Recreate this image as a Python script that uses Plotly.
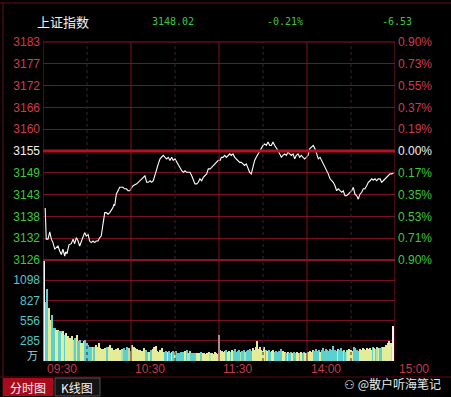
import numpy as np
import plotly.graph_objects as go

# ---------------- data ----------------
prev_close = 3154.55
last_price = 3148.02
change_pct = "-0.21%"
change_abs = "-6.53"
index_name = "上证指数"

price_ticks_left = ["3126", "3132", "3138", "3143", "3149", "3155",
                    "3160", "3166", "3172", "3177", "3183"]
price_ticks_right = ["0.90%", "0.71%", "0.53%", "0.35%", "0.17%", "0.00%",
                     "0.19%", "0.37%", "0.55%", "0.73%", "0.90%"]
time_ticks = [0, 60, 120, 180, 240]
time_labels = ["09:30", "10:30", "11:30", "14:00", "15:00"]
vol_ticks = [285, 556, 827, 1098]
vol_unit = "万"

price_min = [1.5, 2.2, 3.4, 4.6, 5.7, 6.8, 8.0, 9.0, 10.2, 11.4, 12.5, 13.6, 14.8, 15.5, 16.4,
             17.7, 19.3, 20.5, 21.6, 22.7, 23.9, 25.0, 26.1, 27.3, 28.4, 29.5, 30.7, 31.8, 32.9,
             34.1, 35.2, 36.3, 37.5, 38.7, 39.7, 40.9, 42.1, 43.2, 44.3, 45.5, 46.6, 47.7, 48.4,
             48.9, 50.0, 51.1, 52.3, 54.5, 55.7, 56.8, 58.0, 59.1, 60.2, 61.4, 63.9, 65.0, 66.1,
             67.3, 68.4, 69.5, 70.7, 71.8, 73.0, 74.1, 75.2, 76.4, 77.5, 78.6, 79.8, 80.9, 82.0,
             83.2, 84.3, 85.4, 86.6, 87.7, 88.8, 90.0, 91.2, 92.2, 93.4, 94.6, 95.7, 96.8, 98.0,
             99.1, 100.2, 101.4, 102.5, 103.6, 104.8, 105.9, 107.0, 108.2, 109.3, 110.5, 111.6,
             112.7, 113.9, 115.0, 116.1, 117.3, 118.4, 119.5, 120.7, 121.6, 122.7, 123.9, 125.0,
             126.1, 127.3, 128.4, 129.5, 130.7, 131.8, 133.0, 134.1, 135.2, 136.4, 137.5, 138.6,
             139.8, 140.9, 142.0, 143.2, 144.3, 145.4, 146.6, 147.7, 148.8, 150.0, 151.2, 152.3,
             153.4, 154.6, 155.7, 156.8, 158.0, 159.1, 160.2, 161.4, 162.5, 163.6, 164.8, 165.9,
             167.0, 168.2, 169.3, 170.5, 171.6, 172.7, 173.9, 175.0, 176.1, 177.3, 178.4, 179.5,
             180.7, 181.8, 183.2, 184.3, 185.5, 186.6, 187.7, 188.9, 190.0, 191.1, 192.3, 193.4,
             194.5, 195.7, 196.8, 197.9, 199.1, 200.2, 201.3, 202.5, 203.7, 204.7, 205.9, 207.1,
             208.2, 209.3, 210.5, 211.6, 212.7, 213.9, 215.0, 216.1, 217.3, 218.4, 219.5, 220.7,
             221.8, 223.0, 224.1, 225.2, 226.4, 227.5, 228.6, 229.8, 230.9, 232.0, 233.2, 234.3,
             235.5, 236.6, 237.8, 239.0]
price_val = [3139.7, 3131.6, 3131.6, 3133.5, 3131.6, 3130.7, 3129.0, 3129.4, 3129.8, 3128.5, 3127.6,
             3129.0, 3127.2, 3128.3, 3127.8, 3130.1, 3130.4, 3131.6, 3130.4, 3132.0, 3131.1, 3129.8,
             3131.1, 3132.4, 3133.3, 3132.4, 3132.9, 3131.1, 3130.7, 3131.1, 3130.7, 3131.1, 3131.1,
             3132.0, 3132.4, 3135.5, 3138.5, 3138.5, 3138.1, 3138.5, 3139.0, 3139.8, 3140.7, 3140.3,
             3143.3, 3144.2, 3145.1, 3145.1, 3144.7, 3144.7, 3144.2, 3144.2, 3144.7, 3145.5, 3146.0,
             3146.4, 3146.8, 3147.3, 3147.7, 3148.1, 3146.4, 3146.4, 3146.8, 3146.4, 3146.8, 3148.6,
             3150.3, 3151.2, 3152.5, 3152.9, 3153.4, 3152.9, 3152.5, 3152.9, 3152.1, 3152.9, 3152.1,
             3152.5, 3151.6, 3151.2, 3150.3, 3149.4, 3149.0, 3149.4, 3149.0, 3149.0, 3149.0, 3148.1,
             3146.8, 3146.0, 3146.0, 3146.4, 3147.3, 3146.8, 3147.7, 3148.1, 3148.6, 3149.9, 3149.9,
             3150.3, 3150.8, 3151.2, 3151.6, 3152.1, 3152.1, 3152.9, 3152.9, 3153.4, 3152.9, 3153.4,
             3153.8, 3153.4, 3153.8, 3152.9, 3152.5, 3152.1, 3151.6, 3151.6, 3151.2, 3150.8, 3151.2,
             3149.9, 3149.0, 3148.6, 3150.3, 3152.1, 3152.9, 3153.8, 3154.7, 3155.5, 3156.0, 3156.4,
             3156.0, 3156.9, 3156.0, 3156.0, 3156.9, 3156.0, 3155.5, 3154.7, 3153.8, 3152.9, 3153.4,
             3153.8, 3153.4, 3154.2, 3153.8, 3153.4, 3153.8, 3152.5, 3153.4, 3153.8, 3152.9, 3153.4,
             3152.9, 3152.5, 3152.9, 3153.4, 3155.1, 3155.5, 3156.0, 3155.1, 3153.4, 3152.5, 3152.9,
             3152.1, 3151.2, 3150.3, 3149.4, 3148.6, 3147.3, 3146.8, 3146.4, 3145.5, 3144.2, 3144.7,
             3144.2, 3143.8, 3144.2, 3142.9, 3142.9, 3143.3, 3143.8, 3144.2, 3145.1, 3143.3, 3142.9,
             3142.0, 3143.3, 3143.8, 3144.7, 3144.7, 3145.5, 3146.4, 3146.8, 3147.3, 3147.0, 3147.3,
             3146.8, 3147.3, 3147.3, 3146.4, 3146.8, 3147.3, 3147.7, 3148.1, 3148.6, 3148.6, 3148.8]

vol_morning = [480, 1370, 800, 976, 728, 570, 637, 457, 457, 434,
               434, 411, 411, 389, 411, 366, 389, 344, 321, 321,
               344, 298, 321, 366, 276, 298, 253, 253, 276, 298,
               253, 231, 208, 208, 199, 199, 231, 199, 254, 186,
               175, 172, 186, 186, 199, 208, 231, 186, 163, 163,
               172, 186, 163, 163, 172, 186, 163, 199, 163, 186,
               154, 231, 199, 186, 172, 163, 163, 154, 154, 186,
               163, 140, 140, 140, 163, 172, 199, 217, 154, 140,
               163, 186, 140, 140, 154, 140, 154, 127, 140, 154,
               140, 154, 127, 127, 140, 140, 140, 154, 163, 127,
               154, 127, 118, 118, 127, 118, 127, 127, 140, 127,
               118, 109, 118, 140, 127, 118, 109, 140, 118, 109]
vol_afternoon = [366, 163, 154, 140, 154, 163, 140, 154, 140, 163,
                 154, 172, 140, 154, 163, 140, 154, 163, 140, 154,
                 163, 172, 154, 186, 163, 208, 285, 172, 204, 163,
                 154, 208, 163, 154, 163, 140, 154, 163, 140, 154,
                 140, 154, 172, 140, 154, 140, 127, 140, 127, 140,
                 127, 140, 118, 140, 127, 118, 140, 127, 140, 127,
                 118, 140, 154, 140, 163, 154, 172, 154, 163, 140,
                 163, 186, 154, 172, 163, 154, 172, 163, 217, 163,
                 154, 172, 163, 186, 154, 163, 140, 163, 154, 172,
                 163, 154, 199, 186, 163, 154, 172, 163, 186, 172,
                 163, 186, 172, 186, 163, 199, 186, 172, 199, 186,
                 186, 208, 199, 208, 231, 253, 285, 253, 208, 479]
vol_val = vol_morning + vol_afternoon
vol_min = list(range(len(vol_val)))
auction_bars = [1, 120, 239]

# ---------------- derived ----------------
half = prev_close * 0.009
p_lo, p_hi = prev_close - half, prev_close + half
tick_vals = [prev_close + k * half / 5 for k in range(-5, 6)]

RED = "#d23a4c"
GREEN = "#3cc83c"
WHITE = "#f0f0f0"
CYAN = "#52c6c8"
GRID = "#7a1020"


def colored(labels):
    out = []
    for i, t in enumerate(labels):
        c = GREEN if i < 5 else (WHITE if i == 5 else RED)
        out.append(f"<span style='color:{c}'>{t}</span>")
    return out


p_at = np.interp(np.array(vol_min, dtype=float), price_min, price_val)
p_prev = np.interp(np.array(vol_min, dtype=float) - 1, price_min, price_val)
bar_colors = []
for i, (a, b) in enumerate(zip(p_at, p_prev)):
    if i in auction_bars:
        bar_colors.append("#f4f4f4")
    elif a > b + 0.05:
        bar_colors.append("#e4ec96")
    elif a < b - 0.05:
        bar_colors.append("#5ccfd0")
    else:
        bar_colors.append("#a8e4b4")

W, H = 451, 397
x0, x1 = 43 / W, 395 / W
yp_top = 1 - 42 / H
y_mid = 1 - 260 / H
yv_bot = 1 - 361 / H

fig = go.Figure()
fig.add_trace(go.Scatter(x=price_min, y=price_val, mode="lines",
                         line=dict(color="white", width=1.1), xaxis="x", yaxis="y",
                         hoverinfo="skip", showlegend=False))
fig.add_trace(go.Scatter(x=price_min, y=price_val, mode="lines", opacity=0,
                         xaxis="x", yaxis="y2", hoverinfo="skip", showlegend=False))
fig.add_trace(go.Bar(x=vol_min, y=vol_val, marker=dict(color=bar_colors, line=dict(width=0)),
                     width=0.75, xaxis="x2", yaxis="y3", hoverinfo="skip", showlegend=False))

shapes = []
for t in time_ticks:
    shapes.append(dict(type="line", xref="x", yref="paper", x0=t, x1=t, y0=yv_bot, y1=yp_top,
                       line=dict(color=GRID if t not in (0, 240) else "#8a1424", width=1)))
for t in [30, 90, 150, 210]:
    shapes.append(dict(type="line", xref="x", yref="paper", x0=t, x1=t, y0=yv_bot, y1=yp_top,
                       line=dict(color="#3a2428", width=1, dash="dot")))
shapes.append(dict(type="line", xref="paper", yref="y", x0=x0, x1=x1, y0=prev_close, y1=prev_close,
                   line=dict(color="#b0141e", width=3)))
shapes.append(dict(type="line", xref="paper", yref="paper", x0=x0, x1=x1, y0=y_mid, y1=y_mid,
                   line=dict(color="#8a1424", width=2)))
shapes.append(dict(type="line", xref="paper", yref="paper", x0=x0, x1=x1, y0=yp_top, y1=yp_top,
                   line=dict(color="#8a1424", width=1)))
shapes.append(dict(type="line", xref="paper", yref="paper", x0=0, x1=1, y0=1 - 3 / H, y1=1 - 3 / H,
                   line=dict(color="#6a0e18", width=1)))
shapes.append(dict(type="line", xref="paper", yref="paper", x0=3 / W, x1=3 / W, y0=0, y1=1 - 3 / H,
                   line=dict(color="#6a0e18", width=1)))
shapes.append(dict(type="line", xref="paper", yref="paper", x0=0, x1=1, y0=1 - 377 / H, y1=1 - 377 / H,
                   line=dict(color="#5a0c14", width=1)))
shapes.append(dict(type="rect", xref="paper", yref="paper", x0=3 / W, x1=53 / W,
                   y0=1 - 396 / H, y1=1 - 378 / H, fillcolor="#a80c1c", line=dict(width=0)))
shapes.append(dict(type="rect", xref="paper", yref="paper", x0=55 / W, x1=100 / W,
                   y0=1 - 396 / H, y1=1 - 378 / H, fillcolor="#141414",
                   line=dict(color="#505050", width=1)))

ann = []
hdr_y = 1 - 22 / H
ann.append(dict(text=index_name, x=35 / W, y=hdr_y, xref="paper", yref="paper", xanchor="left",
                yanchor="middle", showarrow=False,
                font=dict(color="#f4f4f4", size=13, family="Noto Sans CJK SC")))
mono = "DejaVu Sans Mono"
ann.append(dict(text=f"{last_price:.2f}", x=150 / W, y=hdr_y, xref="paper", yref="paper",
                xanchor="left", yanchor="middle", showarrow=False,
                font=dict(color=GREEN, size=10, family=mono)))
ann.append(dict(text=change_pct, x=265 / W, y=hdr_y, xref="paper", yref="paper",
                xanchor="left", yanchor="middle", showarrow=False,
                font=dict(color=GREEN, size=10, family=mono)))
ann.append(dict(text=change_abs, x=380 / W, y=hdr_y, xref="paper", yref="paper",
                xanchor="left", yanchor="middle", showarrow=False,
                font=dict(color=GREEN, size=10, family=mono)))
for t, lab in zip(time_ticks, time_labels):
    ann.append(dict(text=lab, x=t, y=1 - 369 / H, xref="x2", yref="paper", xanchor="left",
                    yanchor="middle", xshift=2, showarrow=False,
                    font=dict(color="#c83848", size=12, family="Liberation Sans")))
ann.append(dict(text=vol_unit, x=x0, y=1 - 355 / H, xref="paper", yref="paper", xanchor="right",
                yanchor="middle", xshift=-3, showarrow=False,
                font=dict(color="#9ad8d8", size=11, family="Noto Sans CJK SC")))
ann.append(dict(text="分时图", x=28 / W, y=1 - 387 / H, xref="paper", yref="paper",
                xanchor="center", yanchor="middle", showarrow=False,
                font=dict(color="#f4f4f4", size=12, family="Noto Sans CJK SC")))
ann.append(dict(text="K线图", x=77 / W, y=1 - 387 / H, xref="paper", yref="paper",
                xanchor="center", yanchor="middle", showarrow=False,
                font=dict(color="#f4f4f4", size=12, family="Noto Sans CJK SC")))
ann.append(dict(text="⚇ @散户听海笔记", x=443 / W, y=1 - 383 / H, xref="paper", yref="paper",
                xanchor="right", yanchor="middle", showarrow=False,
                font=dict(color="#eaeaea", size=12, family="Noto Sans CJK SC")))

tickfont = dict(size=12, family="Liberation Sans")
fig.update_layout(
    width=W, height=H, autosize=False,
    margin=dict(l=0, r=0, t=0, b=0, pad=0, autoexpand=False),
    paper_bgcolor="#000000", plot_bgcolor="#000000",
    showlegend=False, bargap=0,
    xaxis=dict(domain=[x0, x1], range=[0, 240], anchor="y", showgrid=False, zeroline=False,
               showticklabels=False, ticks="", fixedrange=True, automargin=False),
    xaxis2=dict(domain=[x0, x1], range=[0, 240], anchor="y3", showgrid=False, zeroline=False,
                showticklabels=False, ticks="", fixedrange=True, automargin=False),
    yaxis=dict(domain=[y_mid, yp_top], range=[p_lo, p_hi], anchor="x", side="left",
               tickmode="array", tickvals=tick_vals, ticktext=colored(price_ticks_left),
               showgrid=True, gridcolor=GRID, gridwidth=1, zeroline=False, ticks="",
               tickfont=tickfont, ticklabelstandoff=2, fixedrange=True, automargin=False),
    yaxis2=dict(overlaying="y", side="right", anchor="x", range=[p_lo, p_hi],
                tickmode="array", tickvals=tick_vals, ticktext=colored(price_ticks_right),
                showgrid=False, zeroline=False, ticks="", tickfont=tickfont,
                ticklabelstandoff=2, fixedrange=True, automargin=False),
    yaxis3=dict(domain=[yv_bot, y_mid], range=[14, 1369], anchor="x2", side="left",
                tickmode="array", tickvals=vol_ticks, ticktext=[str(v) for v in vol_ticks],
                showgrid=True, gridcolor=GRID, gridwidth=1, zeroline=False, ticks="",
                tickfont=dict(size=12, family="Liberation Sans Narrow, Liberation Sans", color=CYAN),
                ticklabelstandoff=2, fixedrange=True, automargin=False),
    shapes=shapes, annotations=ann,
)

fig.write_html("out.html")
